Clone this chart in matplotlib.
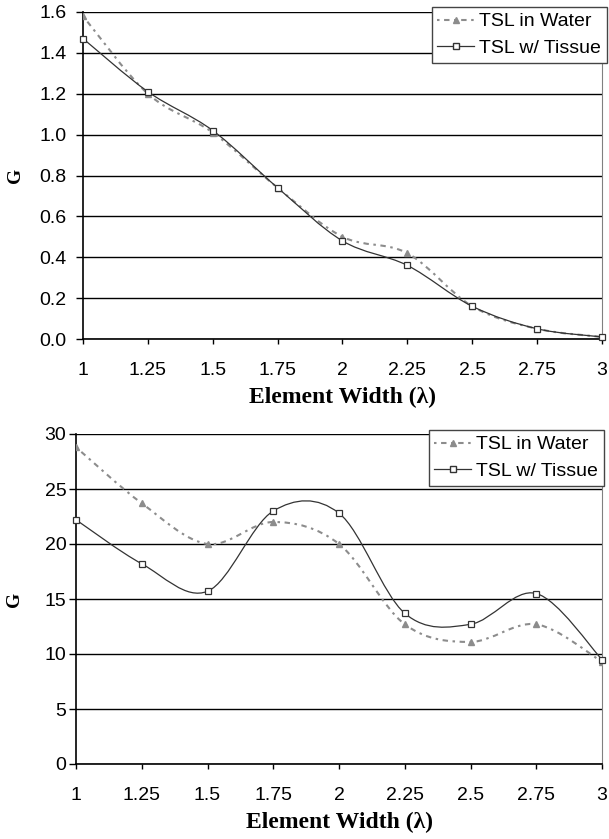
import matplotlib
matplotlib.use("Agg")
from matplotlib import pyplot as plt
from matplotlib.path import Path
from matplotlib.patches import PathPatch
from matplotlib.lines import Line2D
import numpy as np

width = [1, 1.25, 1.5, 1.75, 2, 2.25, 2.5, 2.75, 3]
x_ticklabels = ["1", "1.25", "1.5", "1.75", "2", "2.25", "2.5", "2.75", "3"]

top_water = [1.58, 1.20, 1.01, 0.74, 0.50, 0.42, 0.16, 0.05, 0.01]
top_tissue = [1.47, 1.21, 1.02, 0.74, 0.48, 0.36, 0.16, 0.05, 0.01]

bot_water = [28.8, 23.7, 20.0, 22.0, 20.0, 12.7, 11.1, 12.7, 9.3]
bot_tissue = [22.2, 18.2, 15.7, 23.0, 22.8, 13.7, 12.7, 15.5, 9.5]

water_col = "#8c8c8c"
tissue_col = "#333333"
W, H = 609, 839

plt.rcParams["font.family"] = ["Liberation Sans", "DejaVu Sans"]


def smooth_path(x, y):
    # Excel style smoothed line: cubic bezier through the points
    pts = np.column_stack([x, y]).astype(float)
    n = len(pts)
    verts = [pts[0]]
    codes = [Path.MOVETO]
    for i in range(n - 1):
        p0 = pts[i - 1] if i > 0 else pts[i]
        p1 = pts[i]
        p2 = pts[i + 1]
        p3 = pts[i + 2] if i + 2 < n else pts[i + 1]
        c1 = p1 + (p2 - p0) / 6
        c2 = p2 - (p3 - p1) / 6
        verts += [c1, c2, p2]
        codes += [Path.CURVE4] * 3
    return Path(verts, codes)


def draw_panel(ax, box, water, tissue, yticks, ylabels, ypad, leg_box):
    left, top, right, bottom = box
    dash = (0, (1.2, 2.2, 2.6, 2.2))
    ax.add_patch(PathPatch(smooth_path(width, water), fill=False,
                           edgecolor=water_col, lw=1.5, ls=dash, zorder=3))
    ax.plot(width, water, ls="none", marker="^", ms=4, color=water_col, zorder=4)
    ax.add_patch(PathPatch(smooth_path(width, tissue), fill=False,
                           edgecolor=tissue_col, lw=0.9, zorder=3))
    ax.plot(width, tissue, ls="none", marker="s", ms=4, mfc="white",
            mec=tissue_col, mew=0.9, zorder=5, clip_on=False)

    ax.set_xlim(1, 3)
    ax.set_ylim(yticks[0], yticks[-1])
    ax.set_xticks(width)
    ax.set_xticklabels(x_ticklabels, fontsize=14)
    ax.set_yticks(yticks)
    ax.set_yticklabels(ylabels, fontsize=14)
    ax.yaxis.grid(True, color="black", lw=1)
    ax.set_axisbelow(True)
    ax.tick_params(axis="y", direction="out", length=5, width=1, pad=ypad)
    ax.tick_params(axis="x", direction="out", length=3.6, width=1, pad=13)
    ax.spines["top"].set_visible(False)
    ax.spines["right"].set_color("#808080")
    ax.spines["left"].set_linewidth(1.2)
    ax.spines["bottom"].set_linewidth(1.2)

    ax.set_xlabel("Element Width (\u03bb)", family="Liberation Serif",
                  fontweight="bold", fontsize=17)
    ax.xaxis.set_label_coords(0.5, -48 / (bottom - top))
    ax.set_ylabel("G", family="Liberation Serif", fontweight="bold", fontsize=14)
    ax.yaxis.set_label_coords((15 - left) / (right - left), 0.5)
    ax.yaxis.label.set_va("center")

    handles = [
        Line2D([], [], color=water_col, lw=1.5, ls=dash, marker="^", ms=4),
        Line2D([], [], color=tissue_col, lw=0.9, marker="s", ms=4, mfc="white", mec=tissue_col),
    ]
    leg = ax.legend(handles, ["TSL in Water", "TSL w/ Tissue"], loc="upper right",
                    bbox_to_anchor=(leg_box[0] / W, 1 - leg_box[1] / H),
                    bbox_transform=fig.transFigure, fontsize=14, frameon=True,
                    fancybox=False, edgecolor="#444444", framealpha=1,
                    handlelength=1.9, handletextpad=0.25, borderpad=0.3,
                    labelspacing=0.45, borderaxespad=0)
    leg.get_frame().set_linewidth(1.0)
    leg.set_zorder(10)


fig = plt.figure(figsize=(W / 100, H / 100), dpi=100)
top_box = (83, 12, 602, 339)
bot_box = (76, 434, 602, 764)
ax1 = fig.add_axes([top_box[0] / W, 1 - top_box[3] / H,
                    (top_box[2] - top_box[0]) / W, (top_box[3] - top_box[1]) / H])
ax2 = fig.add_axes([bot_box[0] / W, 1 - bot_box[3] / H,
                    (bot_box[2] - bot_box[0]) / W, (bot_box[3] - bot_box[1]) / H])

draw_panel(ax1, top_box, top_water, top_tissue, [0, 0.2, 0.4, 0.6, 0.8, 1.0, 1.2, 1.4, 1.6],
           ["0.0", "0.2", "0.4", "0.6", "0.8", "1.0", "1.2", "1.4", "1.6"], 7, (607, 7))
draw_panel(ax2, bot_box, bot_water, bot_tissue, [0, 5, 10, 15, 20, 25, 30],
           ["0", "5", "10", "15", "20", "25", "30"], 2, (604, 430))

fig.savefig("out.png", dpi=100)
